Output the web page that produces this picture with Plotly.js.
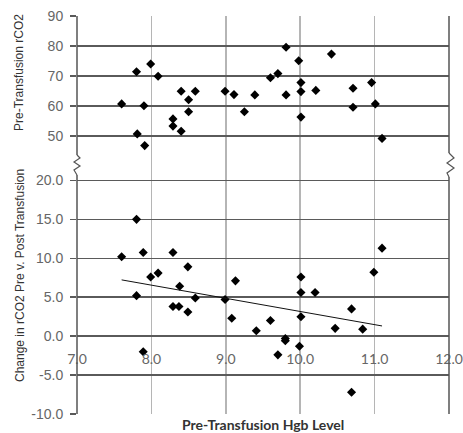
<!DOCTYPE html>
<html>
<head>
<meta charset="utf-8">
<script src="https://cdn.plot.ly/plotly-3.0.1.min.js"></script>
<style>html,body{margin:0;padding:0;background:#fff;}#chart{width:463px;height:433px;}</style>
</head>
<body>
<div id="chart"></div>
<script>
// Top panel: Pre-Transfusion rCO2 vs Hgb
const hgbTop = [7.60, 7.80, 7.99, 8.09, 7.90, 7.81, 7.91, 8.40, 8.59, 8.50, 8.50, 8.29, 8.29, 8.40,
  8.99, 9.11, 9.25, 9.39, 9.60, 9.70, 9.81, 9.81, 9.98, 10.01, 10.01, 10.01, 10.21, 10.42,
  10.71, 10.71, 10.96, 11.01, 11.10];
const preRco2 = [60.7, 71.4, 74.0, 69.9, 60.1, 50.7, 46.8, 64.9, 64.9, 62.1, 58.1, 55.7, 53.3, 51.6,
  64.9, 63.8, 58.1, 63.7, 69.4, 70.8, 79.6, 63.7, 75.1, 67.8, 64.8, 56.3, 65.2, 77.3,
  65.9, 59.6, 67.8, 60.7, 49.2];
// Bottom panel: change in rCO2 vs Hgb
const hgbBottom = [7.80, 7.60, 7.89, 8.29, 8.49, 7.99, 8.09, 7.80, 8.38, 8.29, 8.37, 8.49, 8.59, 7.89,
  8.99, 9.08, 9.13, 9.41, 9.60, 9.80, 9.80, 9.70, 9.99, 10.01, 10.01, 10.20, 10.01, 10.47,
  10.69, 10.84, 10.69, 10.99, 11.10];
const changeRco2 = [15.0, 10.2, 10.75, 10.75, 8.9, 7.6, 8.1, 5.2, 6.4, 3.8, 3.8, 3.1, 4.9, -2.0,
  4.7, 2.3, 7.1, 0.7, 2.0, -0.3, -0.6, -2.4, -1.3, 7.6, 5.6, 5.6, 2.5, 1.0,
  3.5, 0.9, -7.2, 8.2, 11.3];
const xTicks = [7, 8, 9, 10, 11, 12];
const xTickText = ["7.0", "8.0", "9.0", "10.0", "11.0", "12.0"];
const topTicks = [50, 60, 70, 80, 90];
const topTickText = ["50", "60", "70", "80", "90"];
const bottomTicks = [-10, -5, 0, 5, 10, 15, 20];
const bottomTickText = ["-10.0", "-5.0", "0.0", "5.0", "10.0", "15.0", "20.0"];

// linear trend of the change series
function linfit(xs, ys) {
  const n = xs.length;
  let sx = 0, sy = 0, sxx = 0, sxy = 0;
  for (let i = 0; i < n; i++) { sx += xs[i]; sy += ys[i]; sxx += xs[i]*xs[i]; sxy += xs[i]*ys[i]; }
  const b = (n*sxy - sx*sy) / (n*sxx - sx*sx);
  const a = (sy - b*sx) / n;
  return [a, b];
}
const [ia, ib] = linfit(hgbBottom, changeRco2);
const tx = [Math.min(...hgbBottom), Math.max(...hgbBottom)];
const ty = tx.map(v => ia + ib*v);

const W = 463, H = 433, ML = 77, MR = 14, MT = 16, MB = 19;
const PW = W - ML - MR, PH = H - MT - MB;
const px = x => (x - ML) / PW;
const py = y => (H - MB - y) / PH;

const split = py(158);

const traces = [
  {x: hgbTop, y: preRco2, xaxis: 'x', yaxis: 'y2', type: 'scatter', mode: 'markers',
   marker: {symbol: 'diamond', size: 7, color: '#000'}, hoverinfo: 'x+y'},
  {x: hgbBottom, y: changeRco2, xaxis: 'x', yaxis: 'y', type: 'scatter', mode: 'markers',
   marker: {symbol: 'diamond', size: 7, color: '#000'}, hoverinfo: 'x+y'},
  {x: tx, y: ty, xaxis: 'x', yaxis: 'y', type: 'scatter', mode: 'lines',
   line: {color: '#111', width: 1}, hoverinfo: 'skip'}
];

const border = '#555';
function zig(pts) {
  return 'M' + pts.map(p => px(p[0]).toFixed(5) + ',' + py(p[1]).toFixed(5)).join(' L');
}
const shapes = [
  {type: 'line', xref: 'paper', yref: 'paper', x0: 0, x1: 0, y0: 0, y1: py(175), line: {color: border, width: 1.5}},
  {type: 'line', xref: 'paper', yref: 'paper', x0: 0, x1: 0, y0: py(155), y1: 1, line: {color: border, width: 1.5}},
  {type: 'path', xref: 'paper', yref: 'paper', path: zig([[77,155],[80,158],[74,162],[80,166],[74,170],[77,175]]), line: {color: border, width: 1.2}},
  {type: 'line', xref: 'paper', yref: 'paper', x0: 1, x1: 1, y0: 0, y1: py(177), line: {color: border, width: 1.5}},
  {type: 'line', xref: 'paper', yref: 'paper', x0: 1, x1: 1, y0: py(153), y1: 1, line: {color: border, width: 1.5}},
  {type: 'path', xref: 'paper', yref: 'paper', path: zig([[449,153],[454,158],[447,163],[454,168],[447,173],[449,177]]), line: {color: border, width: 1.2}}
];

const tickFont = {family: 'Liberation Sans, Arial, sans-serif', size: 14, color: '#666'};
const layout = {
  width: W, height: H,
  margin: {l: ML, r: MR, t: MT, b: MB, pad: 0},
  paper_bgcolor: '#fff', plot_bgcolor: '#fff',
  showlegend: false,
  xaxis: {
    range: [7, 12], anchor: 'free', position: py(336),
    tickmode: 'array', tickvals: xTicks, ticktext: xTickText,
    showgrid: true, gridcolor: '#b5b5b5', gridwidth: 1.5,
    showline: false, zeroline: false, ticks: '', ticklabelstandoff: 13,
    tickfont: {family: 'Lato, Liberation Sans, sans-serif', size: 14, color: '#666'}
  },
  yaxis: {
    domain: [0, split], range: [-10, 22.88], anchor: 'x',
    tickmode: 'array', tickvals: bottomTicks, ticktext: bottomTickText,
    showgrid: true, gridcolor: '#5a5a5a', gridwidth: 1.5,
    zeroline: true, zerolinecolor: '#5a5a5a', zerolinewidth: 1.5,
    showline: false, ticks: 'outside', ticklen: 6, tickcolor: '#5a5a5a', tickwidth: 1.5,
    ticklabelstandoff: 4,
    tickfont: tickFont
  },
  yaxis2: {
    domain: [split, 1], range: [42.67, 90], anchor: 'x',
    tickmode: 'array', tickvals: topTicks, ticktext: topTickText,
    showgrid: true, gridcolor: '#5a5a5a', gridwidth: 1.5,
    zeroline: false, showline: false,
    ticks: 'outside', ticklen: 6, tickcolor: '#5a5a5a', tickwidth: 1.5,
    ticklabelstandoff: 4,
    tickfont: tickFont
  },
  shapes: shapes,
  annotations: [
    {text: 'Pre-Transfusion rCO2', xref: 'paper', yref: 'paper', x: px(19), y: py(73),
     textangle: -90, showarrow: false, xanchor: 'center', yanchor: 'middle',
     font: {family: 'Liberation Sans, Arial, sans-serif', size: 12, color: '#333'}},
    {text: 'Change in rCO2 Pre v. Post Transfusion', xref: 'paper', yref: 'paper', x: px(20), y: py(276),
     textangle: -90, showarrow: false, xanchor: 'center', yanchor: 'middle',
     font: {family: 'Liberation Sans, Arial, sans-serif', size: 12, color: '#333'}},
    {text: '<b>Pre-Transfusion Hgb Level</b>', xref: 'paper', yref: 'paper', x: 0.5, y: py(424),
     showarrow: false, xanchor: 'center', yanchor: 'middle',
     font: {family: 'Lato, Liberation Sans, sans-serif', size: 14, color: '#333'}}
  ]
};
Plotly.newPlot('chart', traces, layout, {displayModeBar: false, staticPlot: true});
</script>
</body>
</html>
